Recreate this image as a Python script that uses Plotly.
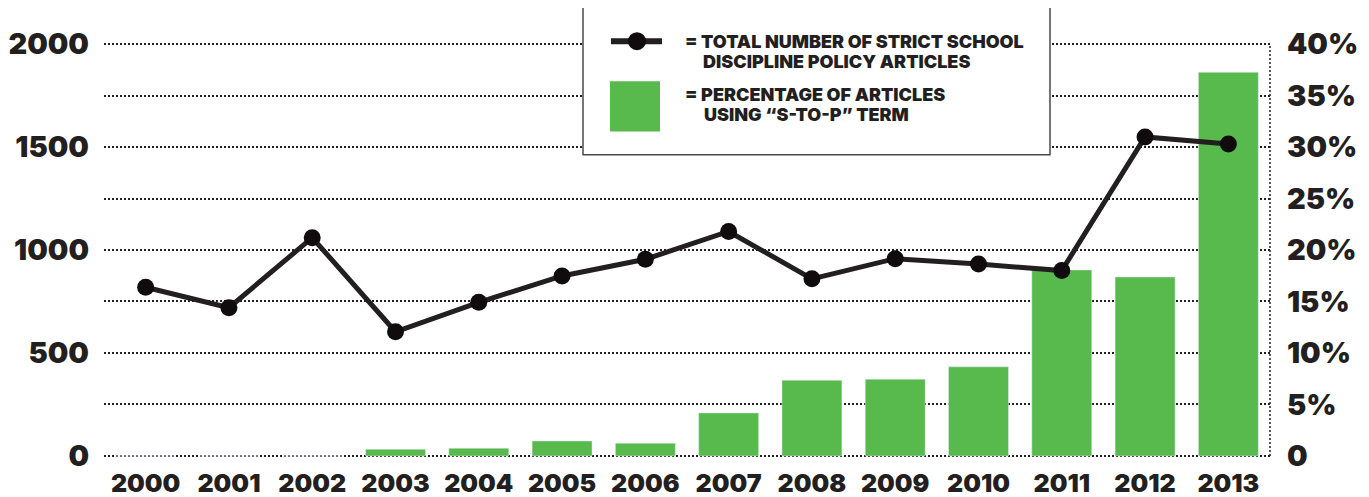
import plotly.graph_objects as go

years = ["2000", "2001", "2002", "2003", "2004", "2005", "2006",
         "2007", "2008", "2009", "2010", "2011", "2012", "2013"]
total_articles = [819, 720, 1060, 603, 746, 874, 955, 1090, 860, 958, 932, 900, 1549, 1515]
pct_stop = [0, 0, 0, 0.65, 0.75, 1.46, 1.24, 4.18, 7.36, 7.46, 8.66, 18.06, 17.38, 37.26]

left_ticks = [0, 250, 500, 750, 1000, 1250, 1500, 1750, 2000]
left_text = ["0", "", "500", "", "1000", "", "1500", "", "2000"]
right_ticks = [0, 5, 10, 15, 20, 25, 30, 35, 40]
right_text = ["0", "5%", "10%", "15%", "20%", "25%", "30%", "35%", "40%"]

INK = "#231f20"
GREEN = "#58b94d"
FONT = "Inter"

OFF = 8  # default page body margin of the html page
W, H = 1369 - OFF, 497 - OFF
L, R, T, B = 104 - OFF, 1270 - OFF, 44.5 - OFF, 455.7 - OFF
PAD = 0.1
pxu = (B - T) / 40.0
T_m, B_m = T - PAD * pxu, B + PAD * pxu


def px(x):
    return (x - OFF - L) / (R - L)


def py(y):
    return (B_m - (y - OFF)) / (B_m - T_m)


fig = go.Figure()
fig.add_trace(go.Bar(x=years, y=pct_stop, marker_color=GREEN, width=0.72,
                     yaxis="y", showlegend=False, hoverinfo="skip"))
fig.add_trace(go.Scatter(x=years, y=total_articles, yaxis="y2", mode="lines+markers",
                         line=dict(color=INK, width=5),
                         marker=dict(color="#100c0d", size=17), showlegend=False))

tickfont_big = dict(family=FONT, size=29, color=INK, weight=900)

fig.update_layout(
    width=W, height=H,
    margin=dict(l=L, r=W - R, t=T_m, b=H - B_m, pad=0, autoexpand=False),
    paper_bgcolor="white", plot_bgcolor="white",
    xaxis=dict(type="category", range=[-0.5, 13.5], showgrid=False, zeroline=False,
               showline=False, ticks="", ticklabelstandoff=9, automargin=False,
               tickfont=dict(family=FONT, size=25, color=INK, weight=900)),
    yaxis=dict(side="right", range=[-PAD, 40 + PAD], tickvals=right_ticks, ticktext=right_text,
               showgrid=True, gridcolor=INK, gridwidth=1.5, griddash="2px,2px",
               zeroline=False, showline=False, ticks="", ticklabelstandoff=16,
               automargin=False, tickfont=tickfont_big),
    yaxis2=dict(side="left", overlaying="y", range=[-PAD * 50, 2000 + PAD * 50],
                tickvals=left_ticks, ticktext=left_text, showgrid=False, zeroline=False,
                showline=False, ticks="", ticklabelstandoff=14, automargin=False,
                tickfont=tickfont_big),
)

shapes = [
    dict(type="line", xref="paper", yref="paper", x0=1, x1=1, y0=py(455.7), y1=py(44.5),
         line=dict(color=INK, width=1.5, dash="2px,2px"), layer="below"),
    dict(type="rect", xref="paper", yref="paper", x0=px(583), x1=px(1050),
         y0=py(155), y1=py(7.5), fillcolor="white", line=dict(color="#4a4a4a", width=1.5),
         layer="above"),
    dict(type="line", xref="paper", yref="paper", x0=px(611), x1=px(662),
         y0=py(41.7), y1=py(41.7), line=dict(color=INK, width=6), layer="above"),
    dict(type="circle", xref="paper", yref="paper", x0=px(628), x1=px(646),
         y0=py(50.7), y1=py(32.7), fillcolor="#100c0d", line=dict(width=0), layer="above"),
    dict(type="rect", xref="paper", yref="paper", x0=px(610), x1=px(660),
         y0=py(131.7), y1=py(81.7), fillcolor=GREEN, line=dict(width=0), layer="above"),
]
fig.update_layout(shapes=shapes)

legfont = dict(family=FONT, size=18, color=INK, weight=900)
leg_lines = [
    ("= TOTAL NUMBER OF STRICT SCHOOL", 683, 41.7),
    ("DISCIPLINE POLICY ARTICLES", 700.5, 61.7),
    ("= PERCENTAGE OF ARTICLES", 683, 95),
    ("USING \u201cS-TO-P\u201d TERM", 701.5, 114.7),
]
for txt, x, y in leg_lines:
    fig.add_annotation(text=txt, xref="paper", yref="paper", x=px(x), y=py(y),
                       xanchor="left", yanchor="middle", showarrow=False, font=legfont)

fig.write_html("out.html")
